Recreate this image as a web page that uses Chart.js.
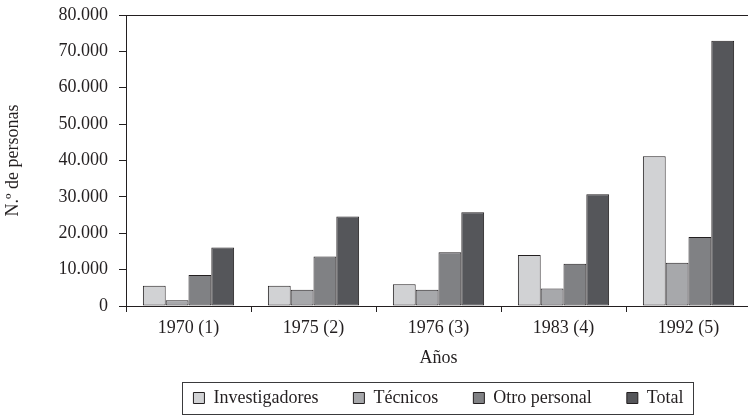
<!DOCTYPE html>
<html>
<head>
<meta charset="utf-8">
<script src="https://cdn.jsdelivr.net/npm/chart.js@4/dist/chart.umd.min.js"></script>
<style>
  html, body { margin: 0; padding: 0; background: #ffffff; overflow: hidden; width: 748px; height: 415px; }
  canvas { display: block; }
</style>
</head>
<body>
<canvas id="c" width="752" height="415"></canvas>
<script>
const categories = ['1970 (1)', '1975 (2)', '1976 (3)', '1983 (4)', '1992 (5)'];
const investigadores = [5600, 5600, 6000, 14000, 41200];
const tecnicos = [1600, 4500, 4500, 4800, 11900];
const otroPersonal = [8500, 13600, 14800, 11600, 19000];
const total = [16100, 24600, 25800, 30700, 72900];
const seriesNames = ['Investigadores', 'Técnicos', 'Otro personal', 'Total'];
const yTicks = [0, 10000, 20000, 30000, 40000, 50000, 60000, 70000, 80000];
const yTitle = 'N.º de personas';
const xTitle = 'Años';

const INK = '#231f20';
const colors = ['#d1d2d4', '#a7a8ab', '#808184', '#55565a'];

function fmt(v) {
  return String(v).replace(/\B(?=(\d{3})+(?!\d))/g, '.');
}

Chart.defaults.font.family = "'Liberation Serif', 'Times New Roman', serif";
Chart.defaults.font.size = 18;
Chart.defaults.color = INK;

const legendBorder = {
  id: 'legendBorder',
  afterDraw(chart) {
    const lg = chart.legend;
    if (!lg || !lg.legendHitBoxes || !lg.legendHitBoxes.length) return;
    const hb = lg.legendHitBoxes;
    const first = hb[0], last = hb[hb.length - 1];
    const left = Math.round(first.left - 11) + 0.5;
    const right = Math.round(last.left + last.width + 9) + 0.5;
    const top = Math.round(first.top - 7.5) + 0.5;
    const bottom = Math.round(first.top + first.height + 6.5) + 0.5;
    const ctx = chart.ctx;
    ctx.save();
    ctx.strokeStyle = '#3a3a3c';
    ctx.lineWidth = 1;
    ctx.strokeRect(left, top, right - left, bottom - top);
    ctx.restore();
  }
};

const datasets = [investigadores, tecnicos, otroPersonal, total].map((d, i) => ({
  label: seriesNames[i],
  data: d,
  backgroundColor: colors[i],
  borderColor: INK,
  borderWidth: 1,
  borderSkipped: false,
  categoryPercentage: 0.73,
  barPercentage: 1.0
}));

new Chart(document.getElementById('c'), {
  type: 'bar',
  data: { labels: categories, datasets },
  plugins: [legendBorder],
  options: {
    responsive: false,
    animation: false,
    devicePixelRatio: 1,
    layout: { padding: { top: 15, right: 1, left: 0, bottom: 0 } },
    plugins: {
      tooltip: { enabled: false },
      legend: {
        position: 'bottom',
        fullSize: false,
        maxHeight: 61,
        labels: {
          boxWidth: 11,
          boxHeight: 11,
          padding: 35,
          color: INK,
          font: { size: 18 }
        }
      }
    },
    scales: {
      x: {
        grid: {
          display: true,
          drawOnChartArea: false,
          offset: true,
          tickLength: 6,
          tickColor: INK,
          lineWidth: 1
        },
        border: { display: true, color: INK, width: 1 },
        ticks: { padding: 5, color: INK, font: { size: 18 }, maxRotation: 0 },
        title: { display: true, text: xTitle, color: INK, font: { size: 18 }, padding: { top: 0, bottom: -15 } },
        afterFit(scale) { scale.height = 48; scale.paddingLeft = 0; scale.paddingRight = 0; }
      },
      y: {
        min: 0,
        max: 80000,
        afterBuildTicks(scale) { scale.ticks = yTicks.map(v => ({ value: v })); },
        grid: {
          display: true,
          drawOnChartArea: true,
          color: (ctx) => (ctx.tick && ctx.tick.value === 80000 ? INK : 'rgba(0,0,0,0)'),
          tickColor: INK,
          tickLength: 7,
          lineWidth: 1
        },
        border: { display: true, color: INK, width: 1 },
        ticks: { padding: 11, color: INK, font: { size: 18 }, callback: (v) => fmt(v) },
        title: { display: true, text: yTitle, color: INK, font: { size: 18 }, padding: { top: 2, bottom: 0 } },
        afterFit(scale) { scale.width = 126; scale.paddingTop = 0; scale.paddingBottom = 0; }
      }
    }
  }
});
</script>
</body>
</html>
